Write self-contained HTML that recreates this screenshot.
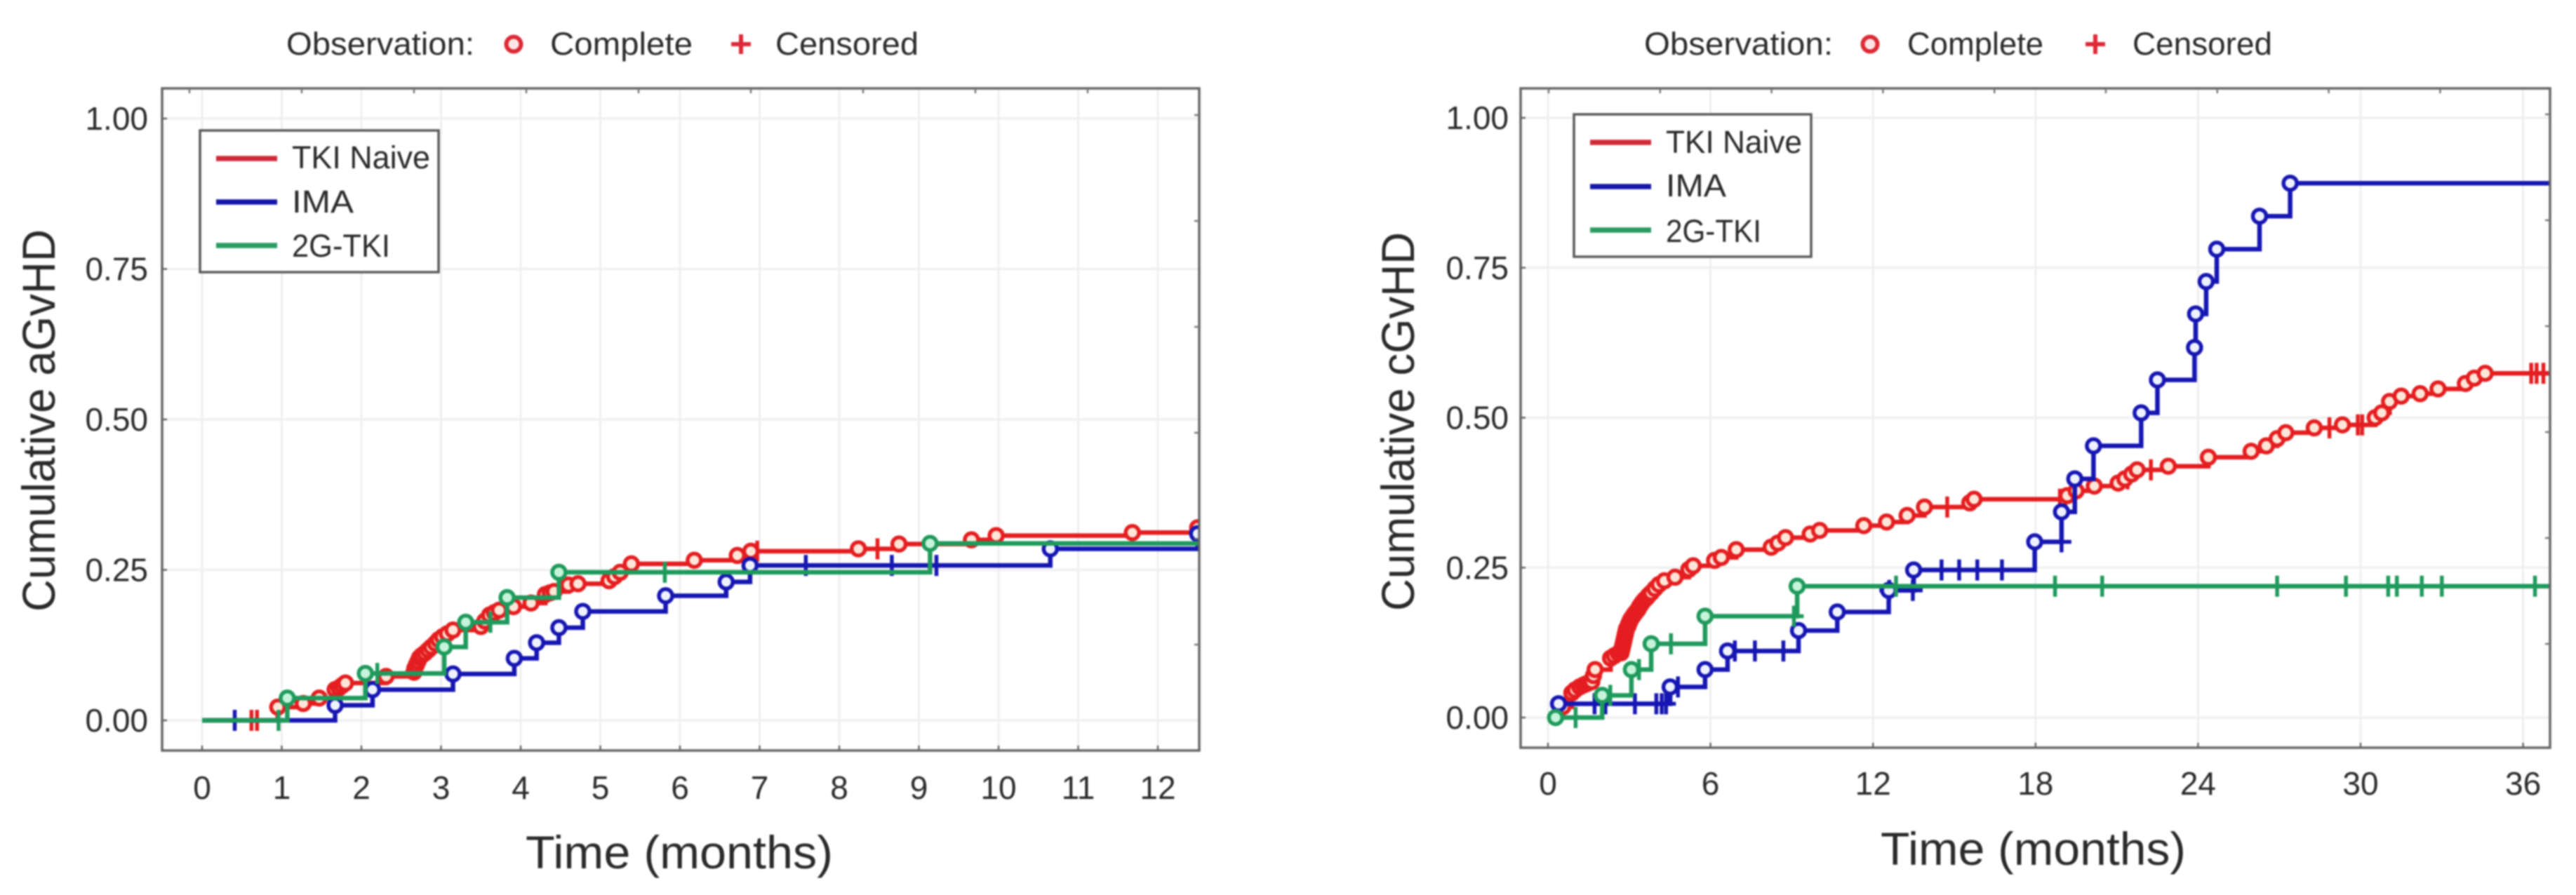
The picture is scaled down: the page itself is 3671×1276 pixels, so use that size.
<!DOCTYPE html>
<html lang="en">
<head>
<meta charset="utf-8">
<title>Cumulative aGvHD and cGvHD</title>
<style>
html,body{margin:0;padding:0;background:#fff;}
body{width:3671px;height:1276px;overflow:hidden;}
svg{display:block;filter:blur(1px);}
text{font-family:"Liberation Sans",sans-serif;fill:#2a2a2a;}
</style>
</head>
<body>
<svg id="chart" xmlns="http://www.w3.org/2000/svg" width="3671" height="1276" viewBox="0 0 3671 1276">
<rect x="0" y="0" width="3671" height="1276" fill="#ffffff"/>
<g>
<text x="408" y="78" font-size="45" textLength="268" lengthAdjust="spacingAndGlyphs">Observation:</text>
<circle cx="732" cy="63" r="10.5" fill="#ffe6e6" stroke="#dc2a36" stroke-width="6"/>
<text x="784" y="78" font-size="45" textLength="203" lengthAdjust="spacingAndGlyphs">Complete</text>
<path d="M1042 63H1070M1056 49V77" stroke="#dc2a36" stroke-width="6" fill="none"/>
<text x="1105" y="78" font-size="45" textLength="204" lengthAdjust="spacingAndGlyphs">Censored</text>
</g>
<g>
<text x="2343" y="78" font-size="45" textLength="269" lengthAdjust="spacingAndGlyphs">Observation:</text>
<circle cx="2665" cy="63" r="10.5" fill="#ffe6e6" stroke="#dc2a36" stroke-width="6"/>
<text x="2718" y="78" font-size="45" textLength="194" lengthAdjust="spacingAndGlyphs">Complete</text>
<path d="M2972 63H3000M2986 49V77" stroke="#dc2a36" stroke-width="6" fill="none"/>
<text x="3039" y="78" font-size="45" textLength="199" lengthAdjust="spacingAndGlyphs">Censored</text>
</g>
<g id="panel-a"></g>
<g id="panel-c"></g>
</svg>
<script>
// ----- shared axis data -----
const yTickValues = [0, 0.25, 0.5, 0.75, 1];
const yTickLabels = ['0.00', '0.25', '0.50', '0.75', '1.00'];
const seriesNames = ['TKI Naive', 'IMA', '2G-TKI'];

// ----- aGvHD panel data -----
const aXTicks = [0, 1, 2, 3, 4, 5, 6, 7, 8, 9, 10, 11, 12];
const aNaiveTimes = [0.95,1.27,1.47,1.67,1.72,1.76,1.8,2.31,2.66,2.67,2.69,2.71,2.73,2.76,2.8,2.84,2.88,2.93,2.97,3.02,3.08,3.15,3.5,3.55,3.61,3.67,3.73,3.91,4.13,4.31,4.37,4.42,4.6,4.72,5.11,5.18,5.25,5.39,6.18,6.72,6.89,8.24,8.75,9.66,9.97,11.68,12.5];
const aNaiveValues = [0.022,0.028,0.037,0.051,0.054,0.058,0.062,0.073,0.08,0.086,0.092,0.098,0.104,0.108,0.112,0.117,0.122,0.128,0.134,0.139,0.144,0.15,0.156,0.165,0.175,0.179,0.183,0.189,0.195,0.209,0.212,0.214,0.225,0.227,0.232,0.239,0.246,0.26,0.266,0.274,0.281,0.285,0.293,0.3,0.307,0.312,0.32];
const aNaiveCensored = [0.62, 0.69, 6.97, 8.48];
const aImaTimes = [1.67,2.14,3.15,3.92,4.2,4.48,4.78,5.82,6.58,6.88,10.65,12.5];
const aImaValues = [0.025,0.051,0.077,0.103,0.129,0.154,0.181,0.207,0.23,0.2575,0.285,0.31];
const aImaCensored = [0.41, 7.58, 8.66, 9.22];
const a2gTimes = [1.07,2.05,3.04,3.31,3.83,4.48,9.14];
const a2gValues = [0.037,0.078,0.122,0.163,0.204,0.246,0.294];
const a2gCensored = [0.96, 2.2, 3.62, 5.81];

// ----- cGvHD panel data -----
const cXTicks = [0, 6, 12, 18, 24, 30, 36];
const cNaiveTimes = [0.55,0.88,1.0,1.17,1.3,1.4,1.5,1.62,1.68,1.74,2.31,2.45,2.6,2.7,2.72,2.74,2.76,2.78,2.8,2.82,2.84,2.86,2.88,2.9,2.95,2.98,3.02,3.06,3.12,3.18,3.25,3.32,3.38,3.44,3.5,3.58,3.65,3.72,3.81,3.95,4.1,4.3,4.69,5.2,5.36,6.15,6.4,6.95,8.24,8.49,8.77,9.68,10.03,11.66,12.5,13.26,13.9,15.57,15.73,19.17,19.5,20.17,21.05,21.3,21.55,21.75,22.9,24.38,25.96,26.52,26.92,27.24,28.29,29.33,30.54,30.78,31.07,31.5,32.2,32.86,33.87,34.2,34.6];
const cNaiveValues = [0.018,0.041,0.046,0.051,0.054,0.056,0.058,0.06,0.07,0.08,0.099,0.103,0.107,0.108,0.112,0.116,0.12,0.124,0.128,0.132,0.136,0.14,0.144,0.148,0.152,0.156,0.16,0.164,0.168,0.172,0.176,0.18,0.185,0.189,0.193,0.197,0.2,0.204,0.208,0.215,0.222,0.228,0.234,0.247,0.253,0.262,0.267,0.28,0.284,0.291,0.3,0.306,0.312,0.32,0.326,0.337,0.351,0.358,0.364,0.37,0.378,0.386,0.391,0.398,0.406,0.413,0.419,0.434,0.444,0.453,0.465,0.475,0.483,0.488,0.5,0.508,0.527,0.536,0.54,0.548,0.557,0.566,0.574];
const cNaiveCensored = [14.74, 18.9, 19.1, 21.4, 22.26, 28.85, 29.9, 30.06, 36.3, 36.5, 36.75];
const cImaTimes = [0.39,4.51,5.8,6.63,9.25,10.68,12.58,13.5,17.97,18.96,19.45,20.14,21.9,22.5,23.87,23.91,24.3,24.69,26.27,27.4];
const cImaValues = [0.023,0.051,0.08,0.111,0.145,0.176,0.212,0.246,0.293,0.343,0.398,0.453,0.508,0.563,0.617,0.673,0.727,0.781,0.836,0.891];
const cImaCensored = [1.72, 2.12, 3.21, 4.0, 4.2, 4.36, 4.8, 6.9, 7.64, 8.69, 12.6, 13.47, 14.53, 15.18, 15.85, 16.76, 18.96];
const c2gTimes = [0.28,2.0,3.08,3.81,5.8,9.2];
const c2gValues = [0,0.037,0.08,0.123,0.169,0.219];
const c2gCensored = [1.02, 2.3, 3.36, 4.54, 9.08, 12.85, 18.72, 20.46, 26.92, 29.46, 31.02, 31.34, 32.26, 33.0, 36.44];

// ----- drawing -----
const SVG_NS = 'http://www.w3.org/2000/svg';
const seriesStyles = [
  {stroke: '#e41e20', fill: '#ffe6d8', swatch: '#cf2a38'},
  {stroke: '#1616b2', fill: '#eef2ff', swatch: '#1616a8'},
  {stroke: '#1f9a5c', fill: '#c6f4da', swatch: '#2a9c62'}
];

function make(parent, tag, attrs, content) {
  const node = document.createElementNS(SVG_NS, tag);
  for (const key in attrs) node.setAttribute(key, attrs[key]);
  if (content !== undefined) node.textContent = content;
  parent.appendChild(node);
  return node;
}

function levelBefore(times, values, t) {
  let level = 0;
  for (let i = 0; i < times.length; i++) {
    if (times[i] < t) level = values[i];
  }
  return level;
}

function drawSeries(parent, cfg, sx, sy, style, name, times, values, censored) {
  const group = make(parent, 'g', {'clip-path': 'url(#clip-' + cfg.id + ')'});
  
  
  let d = 'M' + sx(cfg.startTime) + ' ' + sy(0);
  for (let i = 0; i < times.length; i++) {
    d += 'H' + sx(times[i]) + 'V' + sy(values[i]);
  }
  d += 'H' + cfg.right;
  const line = make(group, 'path', {d: d, fill: 'none', stroke: style.stroke, 'stroke-width': 6.5, 'stroke-linejoin': 'miter'});
  
  
  censored.forEach(function (t) {
    const cx = sx(t);
    const cy = sy(levelBefore(times, values, t));
    const mark = make(group, 'path', {d: 'M' + (cx - 14) + ' ' + cy + 'H' + (cx + 14) + 'M' + cx + ' ' + (cy - 15) + 'V' + (cy + 15), fill: 'none', stroke: style.stroke, 'stroke-width': 5.5});
    
    
  });
  times.forEach(function (t, i) {
    const dot = make(group, 'circle', {cx: sx(t), cy: sy(values[i]), r: 9.5, fill: style.fill, stroke: style.stroke, 'stroke-width': 5.5});
    
    
  });
}

function drawPanel(cfg) {
  const root = document.getElementById(cfg.id);
  const sx = function (t) { return cfg.x0 + cfg.xScale * t; };
  const sy = function (v) { return cfg.y0 - cfg.yScale * v; };

  const defs = make(root, 'defs', {});
  const clip = make(defs, 'clipPath', {id: 'clip-' + cfg.id});
  make(clip, 'rect', {x: cfg.left, y: cfg.top, width: cfg.right - cfg.left, height: cfg.bottom - cfg.top});

  // grid
  cfg.xTicks.forEach(function (t) {
    const g = make(root, 'line', {x1: sx(t), x2: sx(t), y1: cfg.top, y2: cfg.bottom, stroke: '#ececec', 'stroke-width': 2.5});
    
    
  });
  yTickValues.forEach(function (v) {
    const g = make(root, 'line', {x1: cfg.left, x2: cfg.right, y1: sy(v), y2: sy(v), stroke: '#f0f0f0', 'stroke-width': 3.5});
    
    
  });

  // series
  drawSeries(root, cfg, sx, sy, seriesStyles[0], 'tki-naive', cfg.naive[0], cfg.naive[1], cfg.naive[2]);
  drawSeries(root, cfg, sx, sy, seriesStyles[1], 'ima', cfg.ima[0], cfg.ima[1], cfg.ima[2]);
  drawSeries(root, cfg, sx, sy, seriesStyles[2], '2g-tki', cfg.g2[0], cfg.g2[1], cfg.g2[2]);

  // frame and ticks
  const frame = make(root, 'rect', {x: cfg.left, y: cfg.top, width: cfg.right - cfg.left, height: cfg.bottom - cfg.top, fill: 'none', stroke: '#666666', 'stroke-width': 3.5});
  
  

  cfg.xTicks.forEach(function (t) {
    const tick = make(root, 'line', {x1: sx(t), x2: sx(t), y1: cfg.bottom, y2: cfg.bottom - 7, stroke: '#666666', 'stroke-width': 2.5});
    
    
    const label = make(root, 'text', {x: sx(t), y: cfg.xLabelY, 'font-size': 46, 'text-anchor': 'middle'}, String(t));
    
    
  });
  yTickValues.forEach(function (v, i) {
    const tick = make(root, 'line', {x1: cfg.left, x2: cfg.left + 7, y1: sy(v), y2: sy(v), stroke: '#666666', 'stroke-width': 2.5});
    
    
    const label = make(root, 'text', {x: cfg.yLabelX, y: sy(v) + 16, 'font-size': 46, 'text-anchor': 'end'}, yTickLabels[i]);
    
    
  });
  for (let i = 0; i < cfg.topTickCount; i++) {
    const px = cfg.topTickStart + cfg.topTickStep * i;
    const tick = make(root, 'line', {x1: px, x2: px, y1: cfg.top, y2: cfg.top + 7, stroke: '#777777', 'stroke-width': 2.5});
    
    
  }
  for (let i = 0; i < cfg.sideTickCount; i++) {
    const py = cfg.sideTickStart + cfg.sideTickStep * i;
    const tick = make(root, 'line', {x1: cfg.right, x2: cfg.right - 7, y1: py, y2: py, stroke: '#777777', 'stroke-width': 2.5});
    
    
  }

  // axis titles
  const xTitle = make(root, 'text', {x: cfg.xTitleX, y: cfg.xTitleY, 'font-size': 66, textLength: cfg.xTitleLen, lengthAdjust: 'spacingAndGlyphs'}, 'Time (months)');
  
  
  const yTitle = make(root, 'text', {x: 0, y: 0, 'font-size': 66, transform: 'translate(' + cfg.yTitleX + ' ' + cfg.yTitleBottom + ') rotate(-90)', textLength: cfg.yTitleLen, lengthAdjust: 'spacingAndGlyphs'}, cfg.yTitle);
  
  

  // series legend
  const box = make(root, 'g', {});
  
  
  const boxRect = make(box, 'rect', {x: cfg.legend.x, y: cfg.legend.y, width: cfg.legend.w, height: cfg.legend.h, fill: '#ffffff', stroke: '#5a5a5a', 'stroke-width': 3.5});
  
  
  seriesNames.forEach(function (name, i) {
    const swatch = make(box, 'line', {x1: cfg.legend.lineX1, x2: cfg.legend.lineX2, y1: cfg.legend.lineY[i], y2: cfg.legend.lineY[i], stroke: seriesStyles[i].swatch, 'stroke-width': 7.5});
    
    
    const label = make(box, 'text', {x: cfg.legend.textX, y: cfg.legend.textY[i], 'font-size': 45, textLength: cfg.legend.textLen[i], lengthAdjust: 'spacingAndGlyphs'}, name);
    
    
  });
}

drawPanel({
  id: 'panel-a', left: 231, right: 1709, top: 126, bottom: 1070,
  x0: 288, xScale: 113.5, y0: 1027, yScale: 858, startTime: 0,
  xTicks: aXTicks, xLabelY: 1139, yLabelX: 211,
  naive: [aNaiveTimes, aNaiveValues, aNaiveCensored],
  ima: [aImaTimes, aImaValues, aImaCensored],
  g2: [a2gTimes, a2gValues, a2gCensored],
  topTickStart: 270, topTickStep: 160, topTickCount: 9,
  sideTickStart: 164, sideTickStep: 151, sideTickCount: 6,
  xTitleX: 749, xTitleY: 1238, xTitleLen: 438,
  yTitle: 'Cumulative aGvHD', yTitleX: 78, yTitleBottom: 872, yTitleLen: 545,
  legend: {x: 285, y: 186, w: 340, h: 202, lineX1: 308, lineX2: 395, lineY: [226, 288, 350], textX: 416, textY: [240, 303, 366], textLen: [197, 88, 140]}
});

drawPanel({
  id: 'panel-c', left: 2167, right: 3634, top: 126, bottom: 1066,
  x0: 2206, xScale: 38.6, y0: 1023, yScale: 855, startTime: 0.3,
  xTicks: cXTicks, xLabelY: 1133, yLabelX: 2150,
  naive: [cNaiveTimes, cNaiveValues, cNaiveCensored],
  ima: [cImaTimes, cImaValues, cImaCensored],
  g2: [c2gTimes, c2gValues, c2gCensored],
  topTickStart: 2207, topTickStep: 158.8, topTickCount: 9,
  sideTickStart: 163, sideTickStep: 151, sideTickCount: 6,
  xTitleX: 2680, xTitleY: 1233, xTitleLen: 435,
  yTitle: 'Cumulative cGvHD', yTitleX: 2015, yTitleBottom: 871, yTitleLen: 540,
  legend: {x: 2243, y: 163, w: 338, h: 203, lineX1: 2266, lineX2: 2353, lineY: [203, 266, 328], textX: 2374, textY: [218, 280, 345], textLen: [194, 86, 136]}
});
</script>
</body>
</html>
